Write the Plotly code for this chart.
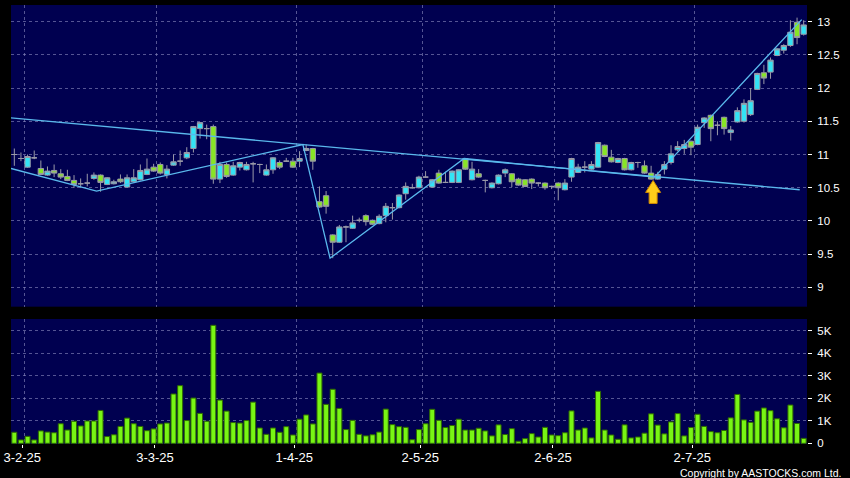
import pandas as pd
import plotly.graph_objects as go

# ---------------- data ----------------
holidays = ['2025-01-29', '2025-01-30', '2025-01-31', '2025-04-04', '2025-04-18',
            '2025-04-21', '2025-05-01', '2025-05-05', '2025-07-01']
dates = [d for d in pd.bdate_range('2025-01-27', '2025-07-24')
         if d.strftime('%Y-%m-%d') not in holidays]

open_ = [11.00, 10.94, 10.81, 10.95, 10.79, 10.69, 10.76, 10.71, 10.67, 10.61,
         10.56, 10.57, 10.64, 10.69, 10.55, 10.56, 10.63, 10.51, 10.59, 10.62,
         10.70, 10.81, 10.85, 10.70, 10.84, 10.90, 10.95, 11.09, 11.39, 11.39,
         11.42, 10.63, 10.85, 10.69, 10.81, 10.77, 10.86, 10.85, 10.69, 10.77,
         10.88, 10.90, 10.90, 10.90, 11.06, 11.09, 10.29, 10.38, 9.79, 9.68,
         9.91, 9.89, 10.01, 10.08, 10.01, 9.96, 10.08, 10.20, 10.20, 10.41,
         10.50, 10.50, 10.66, 10.51, 10.72, 10.58, 10.58, 10.58, 10.94, 10.62,
         10.71, 10.61, 10.50, 10.56, 10.72, 10.71, 10.63, 10.62, 10.63, 10.57,
         10.57, 10.52, 10.57, 10.47, 10.66, 10.73, 10.81, 10.78, 10.81, 11.14,
         10.96, 10.88, 10.94, 10.77, 10.88, 10.83, 10.72, 10.63, 10.78, 10.88,
         11.07, 11.09, 11.20, 11.15, 11.48, 11.59, 11.44, 11.56, 11.33, 11.49,
         11.50, 11.60, 11.98, 12.23, 12.24, 12.49, 12.57, 12.64, 12.99, 12.81]
high = [11.09, 11.03, 11.00, 11.06, 10.91, 10.82, 10.85, 10.78, 10.77, 10.69,
        10.64, 10.71, 10.73, 10.70, 10.66, 10.62, 10.70, 10.70, 10.78, 10.85,
        10.94, 10.86, 10.88, 10.84, 11.00, 11.06, 11.11, 11.43, 11.48, 11.45,
        11.45, 10.89, 10.88, 10.89, 10.89, 10.89, 10.89, 10.86, 10.85, 10.96,
        10.91, 10.95, 10.95, 11.05, 11.15, 11.10, 10.52, 10.45, 9.80, 9.94,
        9.93, 10.08, 10.05, 10.10, 10.02, 10.10, 10.27, 10.27, 10.40, 10.58,
        10.56, 10.68, 10.75, 10.63, 10.77, 10.74, 10.76, 10.78, 10.94, 10.89,
        10.78, 10.62, 10.58, 10.70, 10.79, 10.72, 10.65, 10.63, 10.64, 10.58,
        10.58, 10.53, 10.58, 10.63, 10.95, 10.86, 10.90, 10.90, 11.19, 11.15,
        11.07, 10.95, 10.95, 10.89, 10.89, 10.91, 10.83, 10.74, 10.90, 11.14,
        11.20, 11.22, 11.21, 11.45, 11.56, 11.60, 11.50, 11.57, 11.43, 11.71,
        11.83, 12.00, 12.23, 12.35, 12.46, 12.60, 12.66, 13.02, 13.06, 13.02]
low = [10.83, 10.90, 10.80, 10.93, 10.70, 10.68, 10.66, 10.63, 10.60, 10.50,
       10.50, 10.52, 10.62, 10.44, 10.54, 10.55, 10.57, 10.50, 10.58, 10.61,
       10.69, 10.74, 10.70, 10.64, 10.83, 10.83, 10.93, 11.03, 11.24, 11.23,
       10.56, 10.57, 10.65, 10.68, 10.76, 10.76, 10.58, 10.72, 10.68, 10.71,
       10.78, 10.89, 10.80, 10.81, 11.05, 10.77, 10.20, 10.11, 9.44, 9.67,
       9.68, 9.88, 9.98, 9.93, 9.94, 9.95, 9.98, 10.02, 10.19, 10.32,
       10.49, 10.49, 10.65, 10.50, 10.56, 10.57, 10.57, 10.57, 10.77, 10.61,
       10.65, 10.43, 10.49, 10.55, 10.66, 10.51, 10.53, 10.51, 10.48, 10.52,
       10.47, 10.48, 10.31, 10.46, 10.59, 10.72, 10.73, 10.77, 10.80, 10.96,
       10.88, 10.87, 10.76, 10.76, 10.80, 10.71, 10.62, 10.62, 10.70, 10.85,
       11.05, 11.01, 10.99, 11.14, 11.40, 11.20, 11.29, 11.30, 11.21, 11.48,
       11.48, 11.58, 11.97, 12.06, 12.14, 12.48, 12.52, 12.62, 12.66, 12.79]
close = [11.00, 10.94, 10.97, 10.95, 10.70, 10.75, 10.72, 10.66, 10.61, 10.55,
         10.56, 10.57, 10.69, 10.58, 10.65, 10.59, 10.59, 10.65, 10.65, 10.76,
         10.78, 10.75, 10.72, 10.78, 10.89, 10.90, 11.03, 11.42, 11.48, 11.39,
         10.63, 10.85, 10.67, 10.83, 10.88, 10.85, 10.86, 10.85, 10.77, 10.95,
         10.81, 10.90, 10.81, 10.94, 11.09, 10.90, 10.21, 10.22, 9.68, 9.91,
         9.91, 9.97, 10.01, 9.99, 9.95, 10.07, 10.22, 10.20, 10.39, 10.52,
         10.50, 10.66, 10.66, 10.62, 10.57, 10.58, 10.75, 10.77, 10.78, 10.78,
         10.66, 10.61, 10.57, 10.69, 10.77, 10.59, 10.54, 10.52, 10.57, 10.57,
         10.50, 10.52, 10.50, 10.57, 10.94, 10.81, 10.81, 10.85, 11.18, 10.97,
         10.89, 10.94, 10.77, 10.88, 10.88, 10.72, 10.63, 10.70, 10.85, 11.01,
         11.12, 11.15, 11.11, 11.41, 11.55, 11.39, 11.44, 11.39, 11.37, 11.66,
         11.77, 11.81, 12.22, 12.15, 12.42, 12.59, 12.64, 12.84, 12.76, 12.95]
volume = [490, 150, 310, 150, 550, 500, 470, 870, 590, 980,
          770, 990, 990, 1460, 300, 380, 750, 1120, 870, 750,
          560, 640, 860, 900, 2190, 2560, 1010, 2010, 1330, 980,
          5240, 1920, 1430, 920, 900, 1010, 1830, 680, 400, 680,
          490, 740, 370, 1070, 1260, 860, 3120, 1730, 2400, 1550,
          610, 1020, 400, 330, 380, 500, 1520, 830, 740, 710,
          160, 610, 870, 1510, 1020, 700, 790, 1070, 590, 590,
          670, 550, 330, 820, 390, 650, 90, 210, 430, 280,
          710, 370, 340, 470, 1440, 590, 680, 240, 2310, 590,
          370, 180, 820, 240, 280, 450, 1310, 810, 420, 950,
          1320, 330, 700, 1290, 750, 520, 470, 570, 1130, 2170,
          1040, 930, 1430, 1570, 1450, 1090, 690, 1700, 880, 220]

# drawn trend lines (trading-day index, price)
long_line_x = [-0.5, 118.4]
long_line_y = [11.55, 10.47]
zigzag_x = [-0.5, 12.4, 43.5, 47.6, 67.8, 96.5, 118.7]
zigzag_y = [10.79, 10.45, 11.15, 9.44, 10.94, 10.66, 13.03]
signal_x = 96.3
signal_y = 10.61

price_ticks = [9, 9.5, 10, 10.5, 11, 11.5, 12, 12.5, 13]
price_ticktext = ['9', '9.5', '10', '10.5', '11', '11.5', '12', '12.5', '13']
vol_ticks = [0, 1000, 2000, 3000, 4000, 5000]
vol_ticktext = ['0', '1K', '2K', '3K', '4K', '5K']

# ---------------- figure ----------------
idx = list(range(len(dates)))
hover = [d.strftime('%d-%m-%Y') for d in dates]

# month boundaries: first trading day of each month
month_grid, month_tick, month_txt = [], [], []
for i in range(1, len(dates)):
    if dates[i].month != dates[i - 1].month:
        month_grid.append(i - 0.5)
        month_tick.append(i - 0.8)
        d = dates[i]
        month_txt.append(f"{d.day}-{d.month}-{d.strftime('%y')}")

CYAN = '#33E3F5'
GREEN = '#88E426'
WICK = '#9A9AA8'
GRID = 'rgba(130,130,185,0.65)'
NAVY = '#000050'
LINE = '#5AB8EC'

fig = go.Figure()
fig.add_trace(go.Candlestick(
    x=idx, open=open_, high=high, low=low, close=close, text=hover,
    increasing=dict(fillcolor=CYAN, line=dict(color=WICK, width=1)),
    decreasing=dict(fillcolor=GREEN, line=dict(color=WICK, width=1)),
    whiskerwidth=0, xaxis='x', yaxis='y', showlegend=False))
fig.add_trace(go.Scatter(x=long_line_x, y=long_line_y, mode='lines',
                         line=dict(color=LINE, width=1.3), hoverinfo='skip',
                         xaxis='x', yaxis='y', showlegend=False))
fig.add_trace(go.Scatter(x=zigzag_x, y=zigzag_y, mode='lines',
                         line=dict(color=LINE, width=1.3), hoverinfo='skip',
                         xaxis='x', yaxis='y', showlegend=False))
fig.add_trace(go.Bar(x=idx, y=volume, text=hover, textposition='none',
                     marker=dict(color='#78F514', line=dict(color='#2E6A00', width=1)),
                     xaxis='x2', yaxis='y2', showlegend=False))

# yellow signal arrow (pixel-sized, anchored at a data point)
fig.add_shape(type='path', xref='x', yref='y', xsizemode='pixel', ysizemode='pixel',
              xanchor=signal_x, yanchor=signal_y,
              path='M0,0 L7.5,-12 L4,-12 L4,-23 L-4,-23 L-4,-12 L-7.5,-12 Z',
              fillcolor='#FFCC1A', line=dict(color='#D08A00', width=1), layer='above')

fig.add_annotation(text='Copyright by AASTOCKS.com Ltd.', xref='paper', yref='paper',
                   x=1.045, y=-0.066, xanchor='right', yanchor='middle', showarrow=False,
                   font=dict(family='Liberation Sans, Arial', size=10.5, color='white'))

axis_font = dict(family='Liberation Sans, Arial', size=11.5, color='white')
fig.update_layout(
    width=850, height=478,
    margin=dict(l=4, r=43, t=5, b=34),
    paper_bgcolor='black', plot_bgcolor=NAVY,
    bargap=0.25, boxgap=0.2, boxgroupgap=0, hovermode='closest',
    font=dict(family='Liberation Sans, Arial', color='white'),
    xaxis=dict(domain=[0, 1], anchor='y', range=[-0.5, len(dates) - 0.5],
               tickvals=month_grid, showticklabels=False, ticks='',
               showgrid=True, gridcolor=GRID, griddash='3px,3px', gridwidth=1,
               zeroline=False, showline=False, rangeslider=dict(visible=False)),
    xaxis2=dict(domain=[0, 1], anchor='y2', matches='x', range=[-0.5, len(dates) - 0.5],
                tickvals=month_tick, ticktext=month_txt, ticks='outside', ticklen=3,
                tickcolor='white', showgrid=False, ticklabelstandoff=-2,
                minor=dict(tickvals=month_grid, showgrid=True, gridcolor=GRID,
                           griddash='3px,3px', ticks=''),
                zeroline=False, showline=False, ticklabeloverflow='allow',
                tickfont=dict(family='Liberation Sans, Arial', size=13, color='white')),
    yaxis=dict(domain=[0.3128, 1], anchor='x', side='right', range=[8.71, 13.25],
               tickvals=price_ticks, ticktext=price_ticktext, ticks='outside', ticklen=4,
               tickcolor='white', ticklabelstandoff=3,
               showgrid=True, gridcolor=GRID, griddash='3px,3px', zeroline=False,
               showline=False, tickfont=axis_font),
    yaxis2=dict(domain=[0, 0.2847], anchor='x2', side='right', range=[-30, 5520],
                tickvals=vol_ticks, ticktext=vol_ticktext, ticks='outside', ticklen=4,
                tickcolor='white', ticklabelstandoff=3,
                showgrid=True, gridcolor=GRID, griddash='3px,3px', zeroline=False,
                showline=False, tickfont=axis_font),
)

fig.write_html('out.html', config={'displayModeBar': False},
               post_script="document.body.style.margin='0';document.body.style.background='black';")
